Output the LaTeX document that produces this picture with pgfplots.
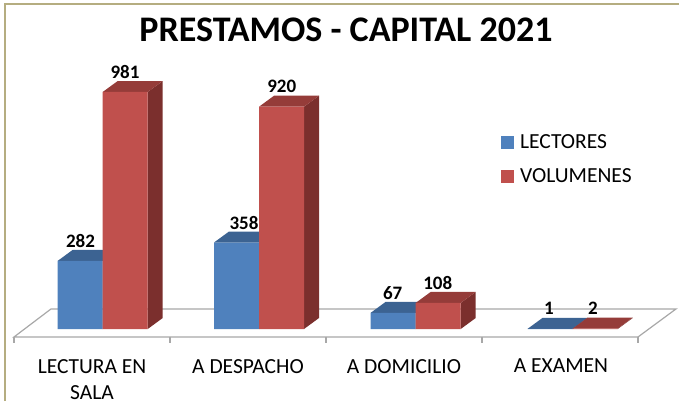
\documentclass[border=0pt]{standalone}
\usepackage{pgfplots}
\pgfplotsset{compat=1.18}
\usepackage{fontspec}
\setmainfont{Carlito}
\definecolor{blF}{HTML}{4F81BD}\definecolor{blT}{HTML}{3C6392}
\definecolor{rdF}{HTML}{C0504D}\definecolor{rdT}{HTML}{953C39}\definecolor{rdS}{HTML}{7B2F2D}
\definecolor{frame}{HTML}{B5AD80}\definecolor{floor}{HTML}{A8A8A8}
% top and side faces of a bar: left x, right x, value, colours
\newcommand\barfaces[5]{%
  \pgfmathsetmacro\xa{#1+15}\pgfmathsetmacro\xb{#2+15}\pgfmathsetmacro\vb{#3+45.5}%
  \addplot[fill=#5,draw=none,forget plot] coordinates {(#2,0)(\xb,45.5)(\xb,\vb)(#2,#3)} -- cycle;
  \addplot[fill=#4,draw=none,forget plot] coordinates {(#1,#3)(#2,#3)(\xb,\vb)(\xa,\vb)} -- cycle;
}
\begin{document}
\begin{tikzpicture}
\begin{axis}[
  scale only axis,width=679pt,height=401pt,
  xmin=0,xmax=679,ymin=-298,ymax=1361.8,
  hide axis,clip=false,
  legend style={at={(axis cs:501,815)},anchor=north west,draw=none,fill=none,
    font=\fontsize{21.5}{24}\selectfont,row sep=15pt,inner sep=0pt},
  legend cell align=left,
  legend image code/.code={\fill[#1] (0pt,-6.5pt) rectangle (13pt,6.5pt);\path (17pt,0pt);},
  unbounded coords=jump,
]
% frame
\addplot[frame,line width=1.3pt,forget plot] coordinates {(5,-298)(5,1345)(679,1345)};
% floor
\addplot[fill=white,draw=floor,line width=1.2pt,forget plot] coordinates {(14,-33)(638,-33)(676,83)(51,83)} -- cycle;
\addplot[floor,line width=1.2pt,forget plot,mark=none] coordinates {(14,-33)(14,-57)(14,nan)(170,-33)(170,-57)(170,nan)(326,-33)(326,-57)(326,nan)(482,-33)(482,-57)(482,nan)(638,-33)(638,-57)};
% blue faces
\barfaces{57.7}{102.7}{282}{blT}{blT}
\barfaces{214}{259}{358}{blT}{blT}
\barfaces{370.7}{415.7}{67}{blT}{blT}
\barfaces{527.7}{572.7}{1}{blT}{blT}
\addplot[ybar,bar shift=0pt,bar width=45,fill=blF,draw=none] coordinates {(80.2,282)(236.5,358)(393.2,67)(550.2,1)};
\addlegendentry{LECTORES}
% red faces
\barfaces{102.7}{147.7}{981}{rdT}{rdS}
\barfaces{259}{304}{920}{rdT}{rdS}
\barfaces{415.7}{460.7}{108}{rdT}{rdS}
\barfaces{572.7}{617.7}{2}{rdT}{rdS}
\addplot[ybar,bar shift=0pt,bar width=45,fill=rdF,draw=none] coordinates {(125.2,981)(281.5,920)(438.2,108)(595.2,2)};
\addlegendentry{VOLUMENES}
% value labels
\tikzset{val/.style={font=\fontsize{19}{19}\selectfont\bfseries,inner sep=0pt,anchor=center}}
\node[val,yshift=20pt] at (axis cs:80.5,282) {282};
\node[val,yshift=20pt] at (axis cs:125,981) {981};
\node[val,yshift=20pt] at (axis cs:244,358) {358};
\node[val,yshift=20pt] at (axis cs:281.7,920) {920};
\node[val,yshift=20pt] at (axis cs:392.7,67) {67};
\node[val,yshift=19.5pt] at (axis cs:437.7,108) {108};
\node[val,yshift=20pt] at (axis cs:549,1) {1};
\node[val,yshift=20pt] at (axis cs:593,2) {2};
% category labels
\tikzset{cat/.style={font=\fontsize{21.5}{26}\selectfont,align=center,anchor=north,inner sep=0pt}}
\node[cat] at (axis cs:92,-124) {LECTURA EN\\SALA};
\node[cat] at (axis cs:248,-124) {A DESPACHO};
\node[cat] at (axis cs:404,-124) {A DOMICILIO};
\node[cat] at (axis cs:561,-124) {A EXAMEN};
% title
\node[font=\fontsize{36}{36}\selectfont\bfseries,inner sep=0pt] at (axis cs:346,1240) {PRESTAMOS - CAPITAL 2021};
\end{axis}
\pgfresetboundingbox
\path[use as bounding box] (0,0) rectangle (679pt,401pt);
\end{tikzpicture}
\end{document}
